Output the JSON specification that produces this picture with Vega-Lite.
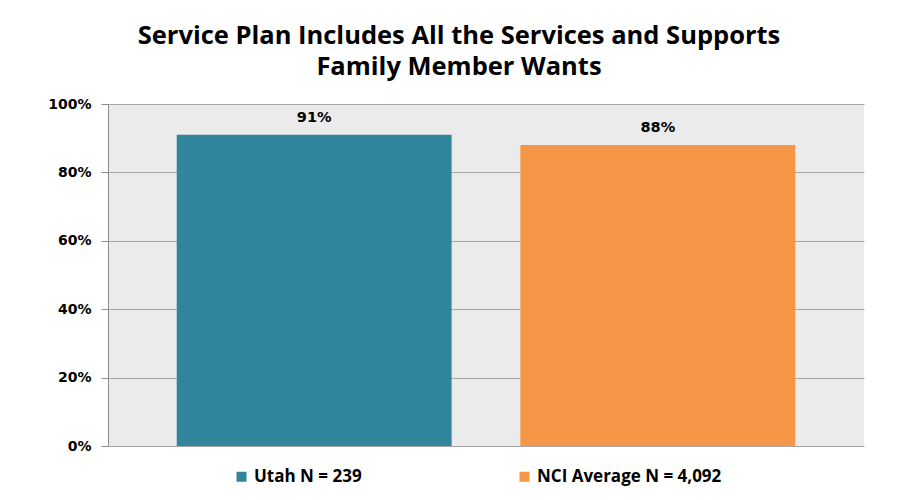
{
  "$schema": "https://vega.github.io/schema/vega-lite/v6.json",
  "autosize": "none",
  "width": 756,
  "height": 342,
  "padding": {"left": 108, "top": 104, "right": 33, "bottom": 54},
  "background": "white",
  "title": {
    "text": ["Service Plan Includes All the Services and Supports", "Family Member Wants"],
    "font": "Open Sans",
    "fontSize": 25.5,
    "fontWeight": "bold",
    "color": "#000000",
    "anchor": "middle",
    "dx": -27,
    "offset": 17,
    "lineHeight": 31
  },
  "data": {
    "values": [
      {"group": "Utah N = 239", "value": 0.91},
      {"group": "NCI Average N = 4,092", "value": 0.88}
    ]
  },
  "encoding": {
    "x": {
      "field": "group",
      "type": "nominal",
      "sort": null,
      "scale": {"paddingInner": 0.2, "paddingOuter": 0.2},
      "axis": null
    },
    "y": {
      "field": "value",
      "type": "quantitative",
      "scale": {"domain": [0, 1]},
      "axis": {
        "values": [0, 0.2, 0.4, 0.6, 0.8, 1],
        "format": ".0%",
        "title": null,
        "labelFont": "DejaVu Sans",
        "labelFontSize": 14,
        "labelFontWeight": "bold",
        "labelColor": "#000000",
        "labelPadding": 10,
        "tickSize": 7,
        "tickColor": "#8c8c8c",
        "domainColor": "#8c8c8c",
        "gridColor": "#a6a6a6",
        "grid": true
      }
    }
  },
  "layer": [
    {
      "mark": {"type": "bar"},
      "encoding": {
        "color": {
          "field": "group",
          "type": "nominal",
          "sort": null,
          "scale": {"domain": ["Utah N = 239", "NCI Average N = 4,092"], "range": ["#31859C", "#F79646"]},
          "legend": {
            "orient": "none",
            "legendX": 125,
            "legendY": 364,
            "direction": "horizontal",
            "title": null,
            "symbolType": "square",
            "symbolSize": 100,
            "symbolStrokeWidth": 0,
            "labelFont": "Open Sans",
            "labelFontSize": 17,
            "labelFontWeight": "bold",
            "labelColor": "#000000",
            "labelOffset": 4,
            "labelLimit": 400,
            "columnPadding": 154
          }
        }
      }
    },
    {
      "mark": {"type": "text", "dy": -10, "baseline": "bottom", "font": "DejaVu Sans", "fontSize": 14.5, "fontWeight": "bold", "color": "#000000"},
      "encoding": {
        "text": {"field": "value", "type": "quantitative", "format": ".0%"}
      }
    }
  ],
  "config": {
    "view": {"fill": "#ebebeb", "stroke": null}
  }
}
